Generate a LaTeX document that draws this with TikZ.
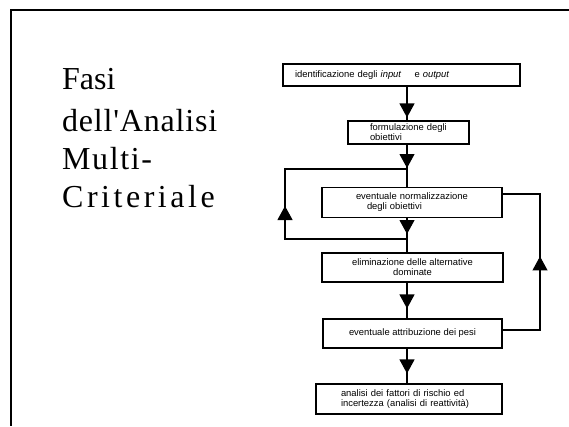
\documentclass[tikz,border=0pt]{standalone}
\usepackage{fontspec}
\setmainfont{Liberation Sans}
\newfontfamily\titlefont{Liberation Serif}
\usetikzlibrary{arrows.meta,decorations.markings,calc}

\begin{document}
\begin{tikzpicture}[x=1pt,y=-1pt,
  stepbox/.style={draw, line width=1.1pt, inner ysep=0pt,
    font=\fontsize{9.4}{10}\selectfont},
  flow/.style={line width=1.1pt},
  tip/.style={postaction={decorate},
    decoration={markings, mark=at position #1 with
      {\arrow{Triangle[width=15pt,length=14pt]}}}},
  titleline/.style={anchor=base west, inner sep=0pt,
    font=\titlefont\fontsize{32}{39}\selectfont}]

\useasboundingbox (0,0) rectangle (569,426);
\fill[white] (0,0) rectangle (569,426);

% slide frame (top and left edges)
\draw[line width=1.8pt] (569,10) -- (11,10) -- (11,426);

% title, one node per line with its own tracking
\node[titleline] (t1) at (62,89)  {Fasi};
\node[titleline] (t2) at (62,131) {\addfontfeatures{LetterSpace=2.5}dell'Analisi};
\node[titleline] (t3) at (62,169) {\addfontfeatures{LetterSpace=5}Multi-};
\node[titleline] (t4) at (62,207) {\addfontfeatures{LetterSpace=11}Criteriale};

% flow boxes
\node[stepbox, minimum height=22pt, text width=213pt, inner xsep=12pt, align=left]
  (b1) at (401.5,75) {identificazione degli \textit{input}\hspace{10pt} e \textit{output}};
\node[stepbox, minimum height=23pt, text width=77pt, inner xsep=22pt, align=left]
  (b2) at (408.5,132.5) {formulazione degli\\obiettivi};
\node[stepbox, minimum height=30pt, text width=118pt, inner xsep=31pt, align=left]
  (b3) at (412,202.5) {\hspace*{3pt}eventuale normalizzazione\\\hspace*{14pt}degli obiettivi};
\node[stepbox, minimum height=29pt, minimum width=181pt, align=center]
  (b4) at (412.5,267.5) {eliminazione delle alternative\\dominate};
\node[stepbox, minimum height=29pt, minimum width=179pt, align=center]
  (b5) at (412.5,333.5) {eventuale attribuzione dei pesi};
\node[stepbox, minimum height=30pt, text width=136pt, inner xsep=25pt, align=left]
  (b6) at (409,399) {analisi dei fattori di rischio ed\\incertezza (analisi di reattività)};

% main spine
\coordinate (spine) at (407,0);
\coordinate (j1) at (407,169);
\coordinate (j2) at (407,239);
\coordinate (lx) at (285,0);
\coordinate (rx) at (540,0);

\draw[flow, tip=-3pt] (spine |- b1.south) -- (spine |- b2.north);
\draw[flow, tip=-1pt] (spine |- b2.south) -- (j1);
\draw[flow] (j1) -- (spine |- b3.north);
\draw[flow, tip=-5pt] (spine |- b3.south) -- (j2);
\draw[flow] (j2) -- (spine |- b4.north);
\draw[flow, tip=-10pt] (spine |- b4.south) -- (spine |- b5.north);
\draw[flow, tip=-10pt] (spine |- b5.south) -- (spine |- b6.north);

% feedback loops
\draw[flow, tip=155pt] (j2) -- (lx |- j2) -- (lx |- j1) -- (j1);
\coordinate (r5) at ($(b5.east)+(0,-3.5)$);
\coordinate (r3) at ($(b3.east)+(0,-8.5)$);
\draw[flow, tip=111pt] (r5) -- (rx |- r5) -- (rx |- r3) -- (r3);
\end{tikzpicture}
\end{document}
